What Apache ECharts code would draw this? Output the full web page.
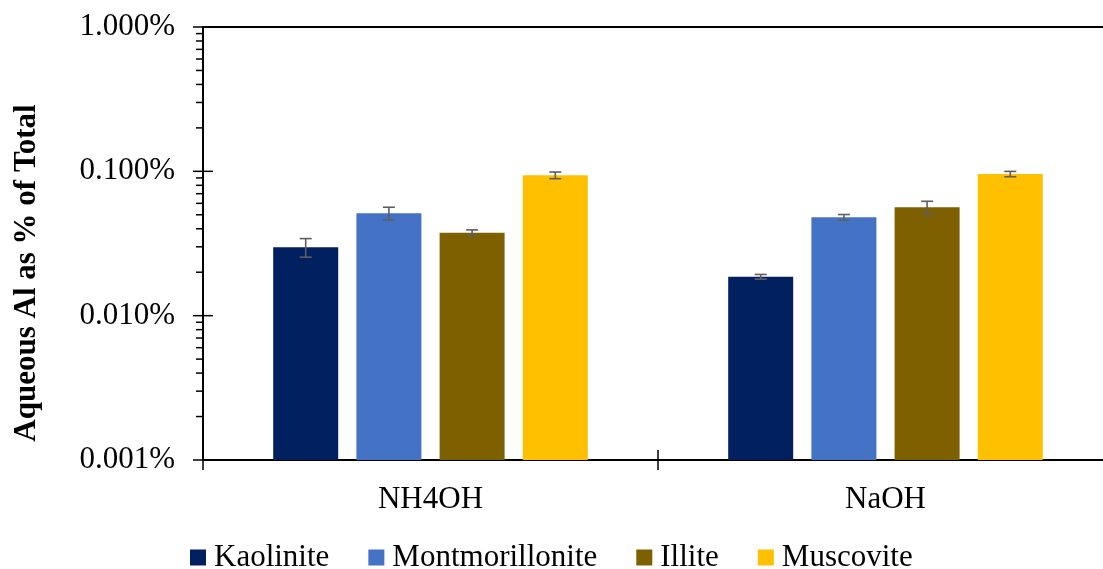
<!DOCTYPE html>
<html>
<head>
<meta charset="utf-8">
<script src="https://cdn.jsdelivr.net/npm/echarts@6/dist/echarts.min.js"></script>
<style>
  html, body { margin: 0; padding: 0; background: #fff; }
  #chart { width: 1103px; height: 569px; }
</style>
</head>
<body>
<div id="chart"></div>
<script>
// Aqueous Al released, in % of total Al, by clay mineral and extractant
const categories = ['NH4OH', 'NaOH'];
const mineralNames = ['Kaolinite', 'Montmorillonite', 'Illite', 'Muscovite'];
const mineralColors = ['#002060', '#4472C4', '#7F6000', '#FFC000'];

const kaolinite = [0.0298, 0.0186];
const montmorillonite = [0.0512, 0.0480];
const illite = [0.0376, 0.0563];
const muscovite = [0.0939, 0.0958];

// standard deviation of each mean
const kaoliniteErr = [0.0044, 0.0007];
const montmorilloniteErr = [0.0052, 0.0022];
const illiteErr = [0.0017, 0.0057];
const muscoviteErr = [0.0050, 0.0041];

const yMin = 0.001;
const yMax = 1;

const values = [kaolinite, montmorillonite, illite, muscovite];
const errors = [kaoliniteErr, montmorilloniteErr, illiteErr, muscoviteErr];

const FONT = '"Liberation Serif", "Times New Roman", serif';
const BAR_W = 65;
const BAR_GAP = 0.28;

// log-axis tick marks: decades (crossing the axis) and 2..9 within each decade
const axisTickValues = [];
for (let d = yMin; d < yMax * 0.999; d *= 10) {
  axisTickValues.push([0, d, 1]);
  for (let m = 2; m <= 9; m++) axisTickValues.push([0, m * d, 0]);
}
axisTickValues.push([0, yMax, 1]);

const chart = echarts.init(document.getElementById('chart'));

const barSeries = mineralNames.map((name, i) => ({
  name: name,
  type: 'bar',
  xAxisIndex: 0,
  yAxisIndex: 0,
  barWidth: BAR_W,
  barGap: (BAR_GAP * 100) + '%',
  itemStyle: { color: mineralColors[i] },
  emphasis: { disabled: true },
  data: values[i],
  z: 2
}));

const errSeries = mineralNames.map((name, i) => ({
  name: name + ' SD',
  type: 'custom',
  xAxisIndex: 0,
  yAxisIndex: 0,
  silent: true,
  z: 5,
  data: values[i].map((v, c) => [c, v, errors[i][c]]),
  renderItem: function (params, api) {
    const c = api.value(0), v = api.value(1), e = api.value(2);
    const off = (i - 1.5) * BAR_W * (1 + BAR_GAP);
    const top = api.coord([c, v + e]);
    const bot = api.coord([c, v - e]);
    const x = top[0] + off;
    const cap = 6;
    const style = { stroke: '#5f5f5f', lineWidth: 1.6 };
    return {
      type: 'group',
      children: [
        { type: 'line', shape: { x1: x, y1: top[1], x2: x, y2: bot[1] }, style: style },
        { type: 'line', shape: { x1: x - cap, y1: top[1], x2: x + cap, y2: top[1] }, style: style },
        { type: 'line', shape: { x1: x - cap, y1: bot[1], x2: x + cap, y2: bot[1] }, style: style }
      ]
    };
  }
}));

const axisTickSeries = {
  name: 'log ticks',
  type: 'custom',
  xAxisIndex: 0,
  yAxisIndex: 0,
  silent: true,
  clip: false,
  z: 6,
  data: axisTickValues,
  renderItem: function (params, api) {
    const y = api.coord([0, api.value(1)])[1];
    const x0 = params.coordSys.x;
    const major = api.value(2) === 1;
    return {
      type: 'line',
      shape: major
        ? { x1: x0 - 10, y1: y, x2: x0 + 10, y2: y }
        : { x1: x0 - 7, y1: y, x2: x0, y2: y },
      style: { stroke: '#000', lineWidth: 1.5 }
    };
  }
};

const option = {
  animation: false,
  backgroundColor: '#fff',
  textStyle: { fontFamily: FONT },
  grid: {
    left: 203, top: 27, width: 910, height: 433,
    outerBoundsMode: 'none',
    show: true, borderColor: '#000', borderWidth: 2,
    containLabel: false
  },
  legend: {
    data: mineralNames,
    left: 185, top: 537,
    itemWidth: 16, itemHeight: 16, itemGap: 39,
    icon: 'rect',
    selectedMode: false,
    textStyle: { fontFamily: FONT, fontSize: 31, color: '#000', padding: [0, 0, 0, 3] }
  },
  xAxis: [
    {
      type: 'category',
      data: categories,
      position: 'bottom',
      axisLine: { lineStyle: { color: '#000', width: 2 } },
      axisTick: { show: true, length: 10, interval: 0, lineStyle: { color: '#000', width: 1.5 } },
      axisLabel: { fontFamily: FONT, fontSize: 31, color: '#000', margin: 24 },
      splitLine: { show: false }
    },
    {
      // inner half of the crossing category ticks
      type: 'category',
      data: categories,
      position: 'bottom',
      axisLine: { show: false },
      axisTick: { show: true, inside: true, length: 10, interval: 0, lineStyle: { color: '#000', width: 1.5 } },
      axisLabel: { show: false },
      splitLine: { show: false }
    }
  ],
  yAxis: {
    type: 'log',
    logBase: 10,
    min: yMin, max: yMax,
    startValue: yMin,
    axisLine: { show: true, lineStyle: { color: '#000', width: 2 } },
    axisTick: { show: false },
    axisLabel: {
      fontFamily: FONT, fontSize: 31, color: '#000', margin: 28,
      formatter: v => v.toFixed(3) + '%'
    },
    splitLine: { show: false }
  },
  graphic: [
    {
      type: 'text',
      x: 27, y: 273,
      rotation: Math.PI / 2,
      style: {
        text: 'Aqueous Al as % of Total',
        font: 'bold 31px ' + FONT,
        fill: '#000',
        align: 'center',
        verticalAlign: 'middle'
      }
    }
  ],
  series: [...barSeries, ...errSeries, axisTickSeries]
};

chart.setOption(option);
</script>
</body>
</html>
